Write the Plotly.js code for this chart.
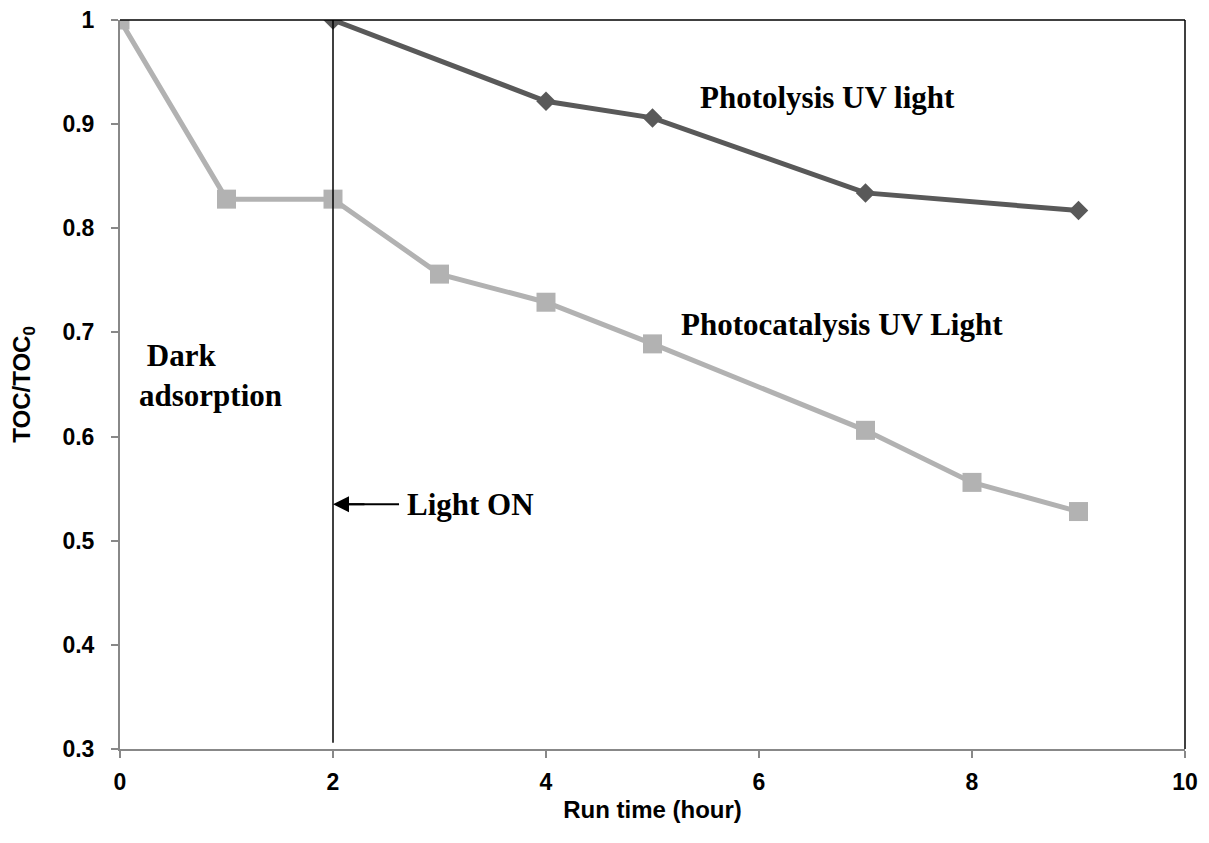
<!DOCTYPE html>
<html><head><meta charset="utf-8">
<script src="https://cdn.plot.ly/plotly-3.0.1.min.js"></script>
<style>body{margin:0;background:#fff}#c{width:1209px;height:843px}</style>
</head><body><div id="c"></div>
<script>
const photolysisX = [2, 4, 5, 7, 9];
const photolysisY = [1.0, 0.922, 0.906, 0.834, 0.817];
const photocatX = [0, 1, 2, 3, 4, 5, 7, 8, 9];
const photocatY = [1.0, 0.828, 0.828, 0.756, 0.729, 0.689, 0.606, 0.556, 0.528];
const lightOnX = 2;

const traces = [
  {x: photocatX, y: photocatY, mode: 'lines+markers', name: 'Photocatalysis UV Light',
   line: {color: '#b2b2b2', width: 5}, marker: {symbol: 'square', size: 19, color: '#b2b2b2'}},
  {x: photolysisX, y: photolysisY, mode: 'lines+markers', name: 'Photolysis UV light',
   line: {color: '#595959', width: 5}, marker: {symbol: 'diamond', size: 15, color: '#595959'}}
];

const serif = {family: 'Liberation Serif, Times New Roman, serif', size: 31, color: '#000', weight: 'bold'};
const sans = 'Liberation Sans, Arial, sans-serif';
const layout = {
  width: 1209, height: 843,
  margin: {l: 120, r: 24, t: 20, b: 94},
  paper_bgcolor: '#fff', plot_bgcolor: '#fff',
  showlegend: false,
  font: {family: sans, color: '#000'},
  xaxis: {range: [0, 10], dtick: 2, showgrid: false, zeroline: false,
    showline: true, linecolor: '#888', linewidth: 2, ticks: 'outside', ticklen: 7, tickcolor: '#888', tickwidth: 2,
    tickfont: {size: 23, family: sans, weight: 'bold'}, ticklabelstandoff: 4,
    title: {text: 'Run time (hour)', font: {size: 24, family: sans, weight: 'bold'}, standoff: 8}},
  yaxis: {range: [0.3, 1], dtick: 0.1, showgrid: false, zeroline: false,
    showline: true, linecolor: '#888', linewidth: 2, ticks: 'outside', ticklen: 7, tickcolor: '#888', tickwidth: 2,
    tickfont: {size: 23, family: sans, weight: 'bold'}, ticklabelstandoff: 12,
    tickformat: '.1~f',
    title: {text: 'TOC/TOC<sub>0</sub>', font: {size: 24, family: sans, weight: 'bold'}, standoff: 25}},
  shapes: [
    {type: 'line', xref: 'paper', yref: 'paper', x0: 0, x1: 1, y0: 1, y1: 1, line: {color: '#000', width: 1.5}},
    {type: 'line', xref: 'paper', yref: 'paper', x0: 1, x1: 1, y0: 0, y1: 1, line: {color: '#000', width: 1.5}},
    {type: 'line', xref: 'x', yref: 'y', x0: lightOnX, x1: lightOnX, y0: 0.306, y1: 1, line: {color: '#000', width: 1.5}},
    {type: 'line', xref: 'x', yref: 'y', x0: 2.12, x1: 2.62, y0: 0.535, y1: 0.535, line: {color: '#000', width: 2}}
  ],
  annotations: [
    {x: 6.64, y: 0.926, xref: 'x', yref: 'y', text: 'Photolysis UV light', showarrow: false, font: serif},
    {x: 6.78, y: 0.708, xref: 'x', yref: 'y', text: 'Photocatalysis UV Light', showarrow: false, font: serif},
    {x: 0.16, y: 0.659, xref: 'x', yref: 'y', text: '\u00a0Dark<br>adsorption', showarrow: false, font: serif, xanchor: 'left', align: 'left'},
    {x: 2.68, y: 0.535, xref: 'x', yref: 'y', text: 'Light ON', showarrow: false, font: serif, xanchor: 'left'},
    {x: lightOnX, y: 0.535, ax: 2.3, ay: 0.535, xref: 'x', yref: 'y', axref: 'x', ayref: 'y', text: '',
     font: {size: 1}, borderpad: 0,
     showarrow: true, arrowhead: 2, arrowsize: 1.6, arrowwidth: 2, arrowcolor: '#000'}
  ]
};
Plotly.newPlot('c', traces, layout, {displayModeBar: false, staticPlot: true});
</script></body></html>
